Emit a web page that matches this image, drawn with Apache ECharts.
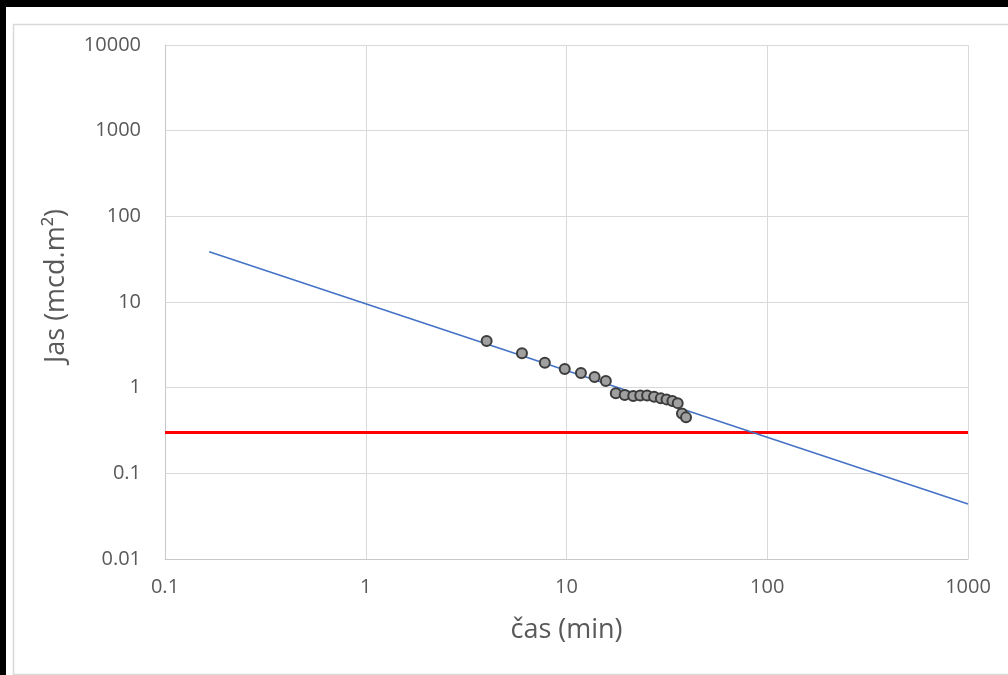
<!DOCTYPE html>
<html>
<head>
<meta charset="utf-8">
<script src="https://cdn.jsdelivr.net/npm/echarts@6/dist/echarts.min.js"></script>
<style>
  html, body { margin: 0; padding: 0; background: #ffffff; }
  #chart { width: 1008px; height: 675px; }
</style>
</head>
<body>
<div id="chart"></div>
<script>
// ---- data ----
var timeMin = [4, 6, 7.8, 9.8, 11.8, 13.8, 15.7, 17.6, 19.5, 21.5, 23.3, 25.2, 27.3, 29.5, 31.5, 33.7, 35.8, 37.6, 39.4];
var jas     = [3.5, 2.52, 1.95, 1.65, 1.48, 1.33, 1.2, 0.86, 0.82, 0.80, 0.81, 0.81, 0.785, 0.75, 0.73, 0.70, 0.66, 0.50, 0.45];
var trendX  = [0.166, 1000];
var trendY  = [38.5, 0.0439];
var limitX  = [0.1, 1000];
var limitY  = [0.3, 0.3];
var xTickLabels = ['0.1', '1', '10', '100', '1000'];
var yTickLabels = ['0.01', '0.1', '1', '10', '100', '1000', '10000'];
var xTitle = 'čas (min)';
var yTitle = 'Jas (mcd.m²)';

function pairs(xs, ys) { return xs.map(function (x, i) { return [x, ys[i]]; }); }

var FONT = 'Open Sans';
var chart = echarts.init(document.getElementById('chart'), null, { renderer: 'canvas' });
chart.setOption({
  animation: false,
  backgroundColor: '#ffffff',
  graphic: [
    { type: 'rect', left: 11, top: 22, shape: { width: 1010, height: 650 }, style: { fill: 'none', stroke: '#d9d9d9', lineWidth: 1.5 }, z: -1 },
    { type: 'rect', left: 0, top: 0, shape: { width: 1008, height: 7 }, style: { fill: '#000000' } },
    { type: 'rect', left: 0, top: 0, shape: { width: 6, height: 675 }, style: { fill: '#000000' } }
  ],
  grid: { left: 165, top: 45, width: 803, height: 514 },
  xAxis: {
    type: 'log', logBase: 10, min: 0.1, max: 1000,
    name: xTitle, nameLocation: 'middle', nameGap: 58,
    nameTextStyle: { color: '#595959', fontSize: 27, fontFamily: FONT },
    axisLine: { show: true, lineStyle: { color: '#c8c8c8', width: 1 } },
    axisTick: { show: false },
    minorTick: { show: false },
    axisLabel: {
      color: '#595959', fontSize: 20, fontFamily: FONT, margin: 18,
      formatter: function (v) { return xTickLabels[Math.round(Math.log10(v)) + 1]; }
    },
    splitLine: { show: true, lineStyle: { color: '#d9d9d9', width: 1 } }
  },
  yAxis: {
    type: 'log', logBase: 10, min: 0.01, max: 10000,
    name: yTitle, nameLocation: 'middle', nameGap: 95, nameRotate: 90,
    nameTextStyle: { color: '#595959', fontSize: 27, fontFamily: FONT, padding: [0, 0, 0, 32] },
    axisLine: { show: true, lineStyle: { color: '#c8c8c8', width: 1 } },
    axisTick: { show: false },
    axisLabel: {
      color: '#595959', fontSize: 20, fontFamily: FONT, margin: 24,
      formatter: function (v) { return yTickLabels[Math.round(Math.log10(v)) + 2]; }
    },
    splitLine: { show: true, lineStyle: { color: '#d9d9d9', width: 1 } }
  },
  series: [
    {
      name: 'limit', type: 'line', data: pairs(limitX, limitY),
      showSymbol: false, symbol: 'none',
      lineStyle: { color: '#ff0000', width: 3 }, z: 2
    },
    {
      name: 'trend', type: 'line', data: pairs(trendX, trendY),
      showSymbol: false, symbol: 'none',
      lineStyle: { color: '#4472c4', width: 1.6 }, z: 3
    },
    {
      name: 'jas', type: 'scatter', data: pairs(timeMin, jas),
      symbol: 'circle', symbolSize: 10,
      itemStyle: { color: '#a0a0a0', borderColor: '#3c3c3c', borderWidth: 2, opacity: 1 }, z: 4
    }
  ]
});
</script>
</body>
</html>
